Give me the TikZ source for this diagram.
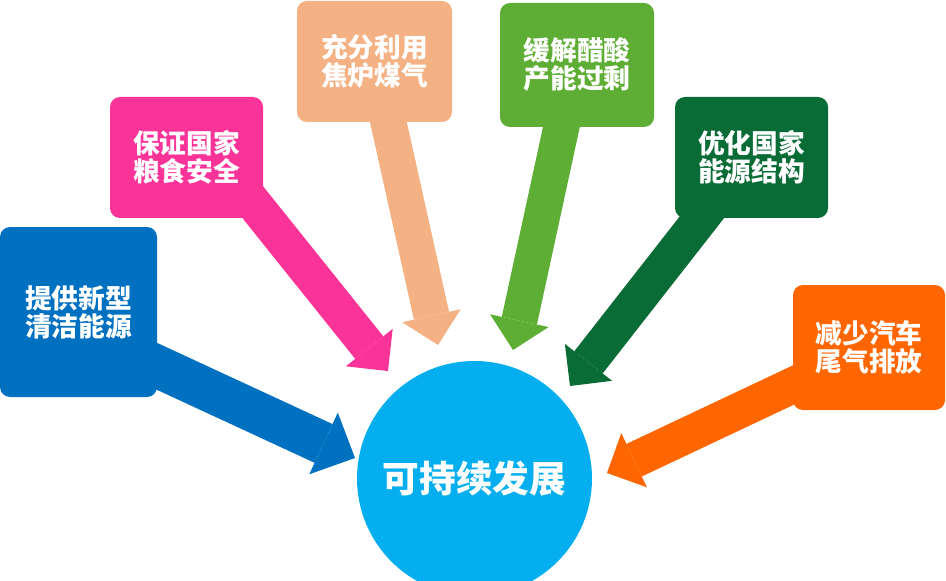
\documentclass[tikz,border=0pt]{standalone}
\usepackage{fontspec}
\newfontfamily\cjk{Noto Sans CJK SC}
\usetikzlibrary{arrows.meta,calc}
\pgfdeclarelayer{bg}
\pgfsetlayers{bg,main}
\definecolor{cblue}{HTML}{0070C0}
\definecolor{cpink}{HTML}{FA3399}
\definecolor{cpeach}{HTML}{F4B183}
\definecolor{clgreen}{HTML}{5EAE35}
\definecolor{cdgreen}{HTML}{096B35}
\definecolor{corange}{HTML}{FF6600}
\definecolor{ccyan}{HTML}{05AFEF}
\begin{document}
\begin{tikzpicture}[x=0.75pt,y=-0.75pt,
  box/.style={rounded corners=7.5pt, inner sep=0pt, text=white, align=center,
    font=\cjk\bfseries\fontsize{20}{21}\selectfont},
  arr/.style={line width=27pt, -{Triangle[length=22.5pt,width=45pt,line width=0pt]}},
  bigarr/.style={line width=32pt, -{Triangle[length=26pt,width=51pt,line width=0pt]}}]
\useasboundingbox (0,0) rectangle (946,581);
\clip (0,0) rectangle (946,581);
% boxes
\node[box, fill=cblue, minimum width=117.75pt, minimum height=127.5pt] (b1) at (78.5,312) {提供新型\\清洁能源};
\node[box, fill=cpink, minimum width=114.75pt, minimum height=90.75pt] (b2) at (186.5,157.5) {保证国家\\粮食安全};
\node[box, fill=cpeach, minimum width=116.25pt, minimum height=90.75pt] (b3) at (374.5,61.5) {充分利用\\焦炉煤气};
\node[box, fill=clgreen, minimum width=115.5pt, minimum height=93pt] (b4) at (577,65) {缓解醋酸\\产能过剩};
\node[box, fill=cdgreen, minimum width=114.75pt, minimum height=90.75pt] (b5) at (751.5,157.5) {优化国家\\能源结构};
\node[box, fill=corange, minimum width=114pt, minimum height=93.75pt] (b6) at (869,347.5) {减少汽车\\尾气排放};
% centre
\node[circle, fill=ccyan, inner sep=0pt, minimum size=176.25pt, text=white,
  font=\cjk\bfseries\fontsize{27.5}{30}\selectfont] (c) at (474.5,478.5) {可持续发展};
% arrows
\begin{pgfonlayer}{bg}
\draw[bigarr, cblue] ($(b1.center)+(0,18)$) -- ($(c.center)+(-119.5,-20.5)$);
\draw[arr, cpink] ($(b2.center)+(48.5,22.5)$) -- ($(c.center)+(-86.5,-107.5)$);
\draw[arr, cpeach] ($(b3.center)+(4.5,18.5)$) -- ($(c.center)+(-36.5,-133.5)$);
\draw[arr, clgreen] ($(b4.center)+(-6.5,20)$) -- ($(c.center)+(38.5,-128.5)$);
\draw[arr, cdgreen] ($(b5.center)+(-20.5,22.5)$) -- ($(c.center)+(95.5,-92.5)$);
\draw[arr, corange] ($(b6.center)+(-29,15.5)$) -- ($(c.center)+(132.5,-5.5)$);
\end{pgfonlayer}
\end{tikzpicture}
\end{document}
